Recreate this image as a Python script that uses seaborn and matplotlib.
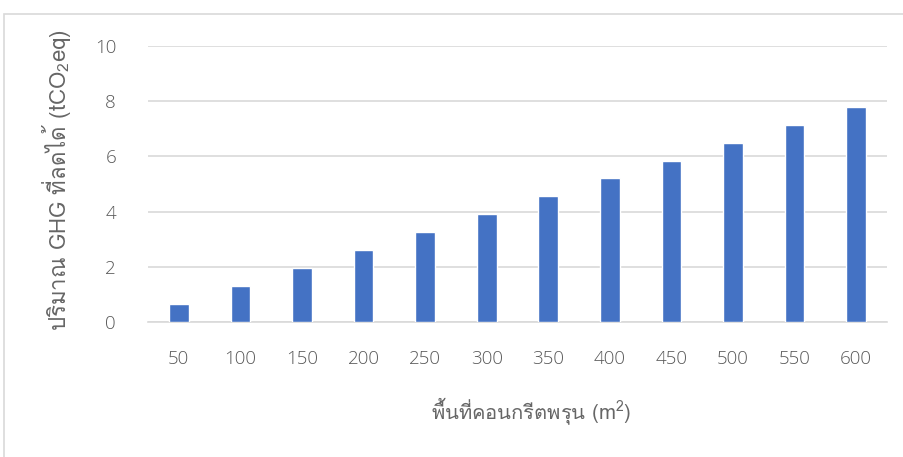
import matplotlib
matplotlib.use("Agg")
import matplotlib.pyplot as plt
from matplotlib import font_manager
from matplotlib.patches import Rectangle
import seaborn as sns
import pandas as pd

areas = ["50", "100", "150", "200", "250", "300", "350", "400", "450", "500", "550", "600"]
ghg_reduced = [0.65, 1.30, 1.95, 2.60, 3.25, 3.90, 4.55, 5.20, 5.85, 6.50, 7.15, 7.80]
y_ticks = [0, 2, 4, 6, 8, 10]

x_title = "พื้นที่คอนกรีตพรุน (m$^2$)"
y_title = "ปริมาณ GHG ที่ลดได้ (tCO$_2$eq)"


def thai_family():
    try:
        from fontTools.ttLib import TTFont
    except ImportError:
        return None
    for f in font_manager.fontManager.ttflist:
        try:
            tt = TTFont(f.fname, fontNumber=0, lazy=True)
            cmap = tt.getBestCmap()
            if cmap and 0x0E1B in cmap and 0x0E35 in cmap:
                return f.name
        except Exception:
            continue
    return None


sns.set_theme(style="white")
tf = thai_family()
label_fams = ([tf] if tf else []) + ["DejaVu Sans"]

# tick numbers in a light sans, axis titles in a Thai-capable face
plt.rcParams["font.family"] = ["Open Sans", "DejaVu Sans"]
plt.rcParams["font.weight"] = "light"
plt.rcParams["mathtext.fontset"] = "custom"
plt.rcParams["mathtext.rm"] = label_fams[0]
plt.rcParams["mathtext.it"] = label_fams[0]
plt.rcParams["mathtext.default"] = "rm"

df = pd.DataFrame({"area": areas, "ghg": ghg_reduced})

fig = plt.figure(figsize=(9.04, 4.57), dpi=100)
ax = fig.add_axes([148 / 904, 1 - 322 / 457, (887 - 148) / 904, (322 - 46) / 457])

sns.barplot(data=df, x="area", y="ghg", color="#4472C4", width=0.32,
            saturation=1, ax=ax, zorder=3)

ax.set_ylim(0, 10)
ax.set_yticks(y_ticks)
ax.set_xlim(-0.5, len(areas) - 0.5)
ax.yaxis.grid(True, color="#d9d9d9", linewidth=1.2, zorder=0)
ax.xaxis.grid(False)
for s in ["left", "right", "top"]:
    ax.spines[s].set_visible(False)
ax.spines["bottom"].set_color("#d9d9d9")
ax.spines["bottom"].set_linewidth(1.2)
ax.tick_params(axis="both", length=0, labelsize=13.5, labelcolor="#595959")
ax.tick_params(axis="x", pad=20)
ax.tick_params(axis="y", pad=23)

ax.set_xlabel(x_title, fontsize=14.5, color="#666666",
              fontfamily=label_fams, fontweight="light")
ax.set_ylabel(y_title, fontsize=16, color="#666666",
              fontfamily=label_fams, fontweight="light")
ax.xaxis.set_label_coords((531 - 148) / 739, -(411 - 322) / 276 + 0.0)
ax.xaxis.label.set_verticalalignment("center")
ax.yaxis.set_label_coords(-(148 - 57) / 739, (322 - 180) / 276)
ax.yaxis.label.set_verticalalignment("center")

fig.patches.append(Rectangle((4.5 / 904, -0.05), 1.0, 1 - 13.5 / 457 + 0.05,
                             transform=fig.transFigure, fill=False,
                             edgecolor="#d9d9d9", linewidth=1.2))

fig.savefig("out.png", dpi=100, facecolor="white")
